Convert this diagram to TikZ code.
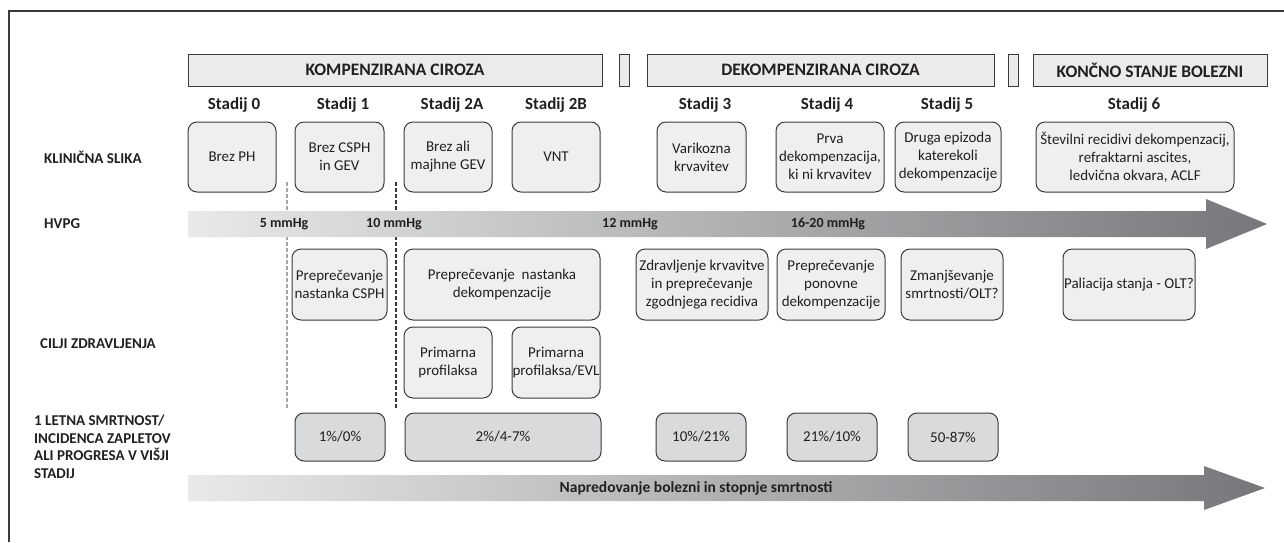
\documentclass[tikz,border=0pt]{standalone}
\usepackage{fontspec}
\setmainfont{Carlito}
\definecolor{ink}{HTML}{231F20}
\definecolor{edge}{HTML}{3A3A3A}
\definecolor{boxfill}{HTML}{EFEFEF}
\definecolor{barfill}{HTML}{EBEBEB}
\definecolor{mortfill}{HTML}{D9DADC}
\definecolor{arrL}{HTML}{E8E9EA}
\definecolor{arrR}{HTML}{76777A}
\begin{document}
\begin{tikzpicture}[x=1pt,y=-1pt,
  every node/.style={text=ink, inner sep=0pt},
  bar/.style={draw=edge, line width=1pt, fill=barfill, font=\fontsize{17.5}{20}\selectfont\bfseries},
  cbox/.style={draw=edge, line width=1pt, fill=boxfill, rounded corners=9pt, align=center, font=\fontsize{15}{18}\selectfont},
  mbox/.style={cbox, fill=mortfill},
  stage/.style={font=\fontsize{17}{20}\selectfont\bfseries},
  rowhead/.style={anchor=west, align=left, font=\fontsize{15}{17.5}\selectfont\bfseries},
  pres/.style={font=\fontsize{14}{16}\selectfont\bfseries},
  arrowtext/.style={font=\fontsize{15.5}{18}\selectfont\bfseries}
]
\useasboundingbox (0,0) rectangle (1284,542);
% frame
\draw[edge, line width=1.5pt] (9,542) -- (9,11) -- (1284,11);

% top bars
\node[bar, minimum width=414, minimum height=32] (b1) at (395,70) {KOMPENZIRANA CIROZA};
\node[bar, minimum width=10, minimum height=32] (s1) at (624,70) {};
\node[bar, minimum width=347, minimum height=32] (b2) at (820.5,70) {DEKOMPENZIRANA CIROZA};
\node[bar, minimum width=10, minimum height=32] (s2) at (1013,70) {};
\node[bar, minimum width=234, minimum height=32] (b3) at (1150,70) {KONČNO STANJE BOLEZNI};

% stage labels
\node[stage] (st0) at (234,105) {Stadij 0};
\node[stage] (st1) at (343,105) {Stadij 1};
\node[stage] (st2a) at (452,105) {Stadij 2A};
\node[stage] (st2b) at (556,105) {Stadij 2B};
\node[stage] (st3) at (705,105) {Stadij 3};
\node[stage] (st4) at (827,105) {Stadij 4};
\node[stage] (st5) at (947,105) {Stadij 5};
\node[stage] (st6) at (1134,105) {Stadij 6};

% row headers
\node[rowhead] (hk) at (44,157) {KLINIČNA SLIKA};
\node[rowhead] (hh) at (44,224) {HVPG};
\node[rowhead] (hc) at (40,344) {CILJI ZDRAVLJENJA};
\node[rowhead] (hl) at (34,447) {1 LETNA SMRTNOST/\\INCIDENCA ZAPLETOV\\ALI PROGRESA V VIŠJI\\STADIJ};

% dashed separators
\draw[gray!70, line width=1.2pt, dash pattern=on 4pt off 2pt] (287,182) -- (287,409);
\draw[edge, line width=1.2pt, dash pattern=on 4pt off 2pt] (396,182) -- (396,409);

% clinical boxes
\node[cbox, minimum width=88, minimum height=70] (c0) at (232,157) {Brez PH};
\node[cbox, minimum width=89, minimum height=70] (c1) at (339.5,157) {Brez CSPH\\in GEV};
\node[cbox, minimum width=88, minimum height=70] (c2a) at (448,157) {Brez ali\\majhne GEV};
\node[cbox, minimum width=88, minimum height=70] (c2b) at (556,157) {VNT};
\node[cbox, minimum width=89, minimum height=70] (c3) at (701.5,157) {Varikozna\\krvavitev};
\node[cbox, minimum width=108, minimum height=70] (c4) at (830,157) {Prva\\dekompenzacija,\\ki ni krvavitev};
\node[cbox, minimum width=106, minimum height=70] (c5) at (948,157) {Druga epizoda\\katerekoli\\dekompenzacije};
\node[cbox, minimum width=198, minimum height=70] (c6) at (1135,157) {Številni recidivi dekompenzacij,\\refraktarni ascites,\\ledvična okvara, ACLF};

% HVPG arrow
\shade[left color=arrL, right color=arrR] (188,211) -- (1206,211) -- (1206,199) -- (1267,224) -- (1206,249) -- (1206,237) -- (188,237) -- cycle;
\node[pres] (p5) at (284,224) {5 mmHg};
\node[pres] (p10) at (394,224) {10 mmHg};
\node[pres] (p12) at (630,224) {12 mmHg};
\node[pres] (p16) at (828,224) {16-20 mmHg};

% goals
\node[cbox, minimum width=95, minimum height=71] (g1) at (339.5,284.5) {Preprečevanje\\nastanka CSPH};
\node[cbox, minimum width=196, minimum height=71] (g2) at (502,284.5) {Preprečevanje\ \ nastanka\\dekompenzacije};
\node[cbox, minimum width=132, minimum height=71] (g3) at (702,284.5) {Zdravljenje krvavitve\\in preprečevanje\\zgodnjega recidiva};
\node[cbox, minimum width=108, minimum height=71] (g4) at (831,284.5) {Preprečevanje\\ponovne\\dekompenzacije};
\node[cbox, minimum width=102, minimum height=71] (g5) at (952,284.5) {Zmanjševanje\\smrtnosti/OLT?};
\node[cbox, minimum width=132, minimum height=71] (g6) at (1129,284.5) {Paliacija stanja - OLT?};
\node[cbox, minimum width=88, minimum height=71] (pp1) at (448,362.5) {Primarna\\profilaksa};
\node[cbox, minimum width=88, minimum height=71] (pp2) at (556,362.5) {Primarna\\profilaksa/EVL};

% mortality
\node[mbox, minimum width=90, minimum height=48] (m1) at (340,437) {1\%/0\%};
\node[mbox, minimum width=196, minimum height=48] (m2) at (503,437) {2\%/4-7\%};
\node[mbox, minimum width=90, minimum height=48] (m3) at (701,437) {10\%/21\%};
\node[mbox, minimum width=90, minimum height=48] (m4) at (832,437) {21\%/10\%};
\node[mbox, minimum width=90, minimum height=48] (m5) at (953,437) {50-87\%};

% bottom arrow
\shade[left color=arrL, right color=arrR] (188,475) -- (1204,475) -- (1204,466) -- (1265,488) -- (1204,510) -- (1204,501) -- (188,501) -- cycle;
\node[arrowtext] (prog) at (696,488) {Napredovanje bolezni in stopnje smrtnosti};
\end{tikzpicture}
\end{document}
